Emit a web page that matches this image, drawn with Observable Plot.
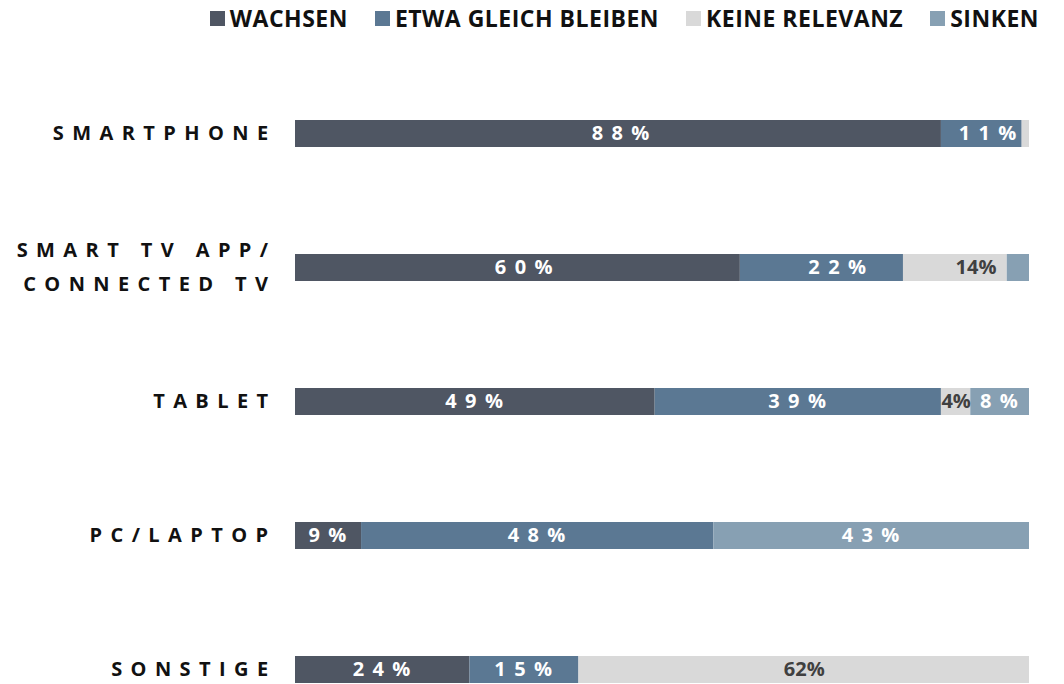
<!DOCTYPE html>
<html>
<head>
<meta charset="utf-8">
<script src="https://cdn.jsdelivr.net/npm/d3@7"></script>
<script src="https://cdn.jsdelivr.net/npm/@observablehq/plot@0.6"></script>
<style>
  html, body { margin: 0; padding: 0; background: #fff; overflow: hidden; }
  body { width: 1064px; height: 684px; position: relative; font-family: "Open Sans", sans-serif; }
  #legend { position: absolute; top: 2px; right: 25px; display: flex; gap: 27px; align-items: center; z-index: 2; height: 32px; }
  .item { display: flex; align-items: center; gap: 5px; font-weight: 700; font-size: 23px; color: #111; letter-spacing: 0.5px; line-height: 32px; }
  .sw { width: 15px; height: 15px; display: inline-block; }
  #chart { position: absolute; top: 0; left: 0; }
</style>
</head>
<body>
<div id="legend"></div>
<div id="chart"></div>
<script>
const categories = ["SMARTPHONE", "SMART TV APP/\nCONNECTED TV", "TABLET", "PC/LAPTOP", "SONSTIGE"];
const seriesNames = ["WACHSEN", "ETWA GLEICH BLEIBEN", "KEINE RELEVANZ", "SINKEN"];
const seriesColors = ["#4f5663", "#5b7893", "#d9d9d9", "#87a0b3"];
const wachsen = [88, 60, 49, 9, 24];
const gleichBleiben = [11, 22, 39, 48, 15];
const keineRelevanz = [1, 14, 4, 0, 62];
const sinken = [0, 3, 8, 43, 0];

const seriesValues = [wachsen, gleichBleiben, keineRelevanz, sinken];
const data = [];
categories.forEach((c, i) => {
  seriesNames.forEach((s, j) => {
    data.push({cat: c, series: s, value: seriesValues[j][i]});
  });
});

// legend
const legend = document.getElementById("legend");
seriesNames.forEach((s, j) => {
  const it = document.createElement("div");
  it.className = "item";
  it.innerHTML = `<span class="sw" style="background:${seriesColors[j]}"></span><span>${s}</span>`;
  legend.appendChild(it);
});

const labelData = data.filter(d => d.value >= 4);
const stackOpts = {x: "value", y: "cat", offset: "normalize"};

const chart = Plot.plot({
  width: 1064,
  height: 700,
  marginTop: 119,
  marginBottom: 16,
  marginLeft: 295,
  marginRight: 35,
  style: {fontFamily: "Open Sans", background: "transparent"},
  x: {domain: [0, 1], axis: null},
  y: {domain: categories, paddingInner: 0.8, paddingOuter: 0, label: null},
  color: {domain: seriesNames, range: seriesColors},
  marks: [
    Plot.barX(data, Plot.stackX({...stackOpts, fill: "series", order: null})),
    Plot.text(labelData, Plot.stackX({
      ...stackOpts, order: null,
      text: d => d.value + "%",
      fill: d => d.series === "KEINE RELEVANZ" ? "#404040" : "white",
      fontWeight: 700,
      fontSize: 20
    })),
    Plot.axisY({
      tickSize: 0,
      tickPadding: 19,
      fontSize: 20,
      fontWeight: 700,
      lineHeight: 1.7,
      color: "#111",
      label: null,
      dy: -5
    })
  ]
});
document.getElementById("chart").appendChild(chart);

// letter spacing tweaks
const svg = d3.select(chart);
svg.selectAll('g[aria-label="y-axis tick label"] text').style("letter-spacing", "0.42em").attr("fill", "#111");
svg.selectAll('g[aria-label="text"] text').each(function() {
  const t = d3.select(this);
  if (t.attr("fill") === "white") {
    t.style("letter-spacing", "0.42em");
    const tr = t.attr("transform");
    t.attr("transform", (tr ? tr + " " : "") + "translate(3,0)");
  }
});
</script>
</body>
</html>
